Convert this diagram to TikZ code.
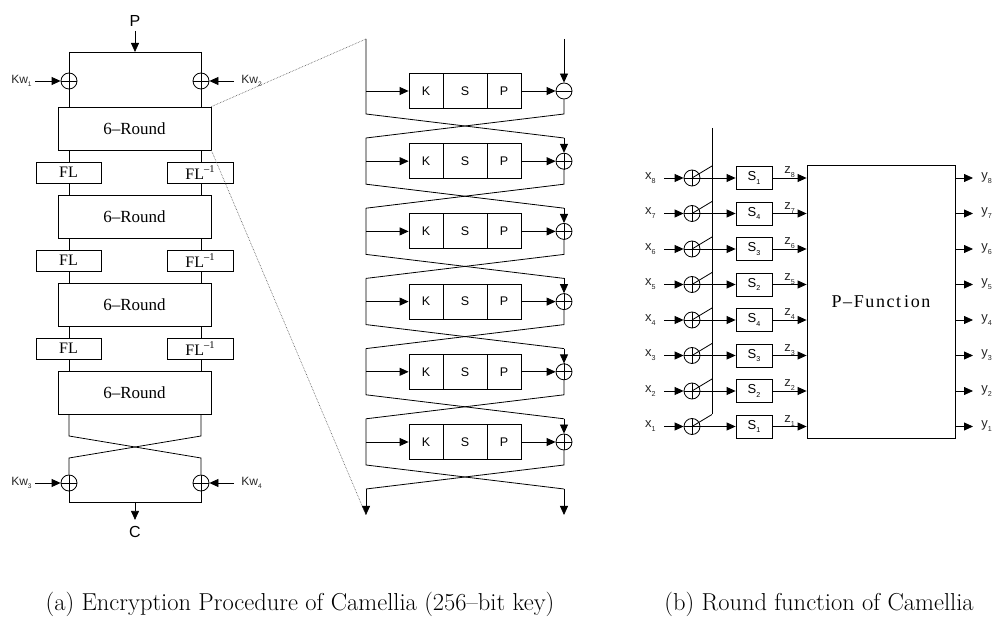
\documentclass[tikz,border=0pt]{standalone}
\usepackage{fontspec}
\usepackage{graphicx}
\newfontfamily\sansf{Liberation Sans}
\newfontfamily\serf{Liberation Serif}
\newfontfamily\serfw{Liberation Serif}[LetterSpace=9]
\usetikzlibrary{arrows.meta}
\newcommand\ssub[1]{\raisebox{-0.3em}{\scalebox{0.55}{#1}}}
\newcommand\ssup[1]{\raisebox{0.42em}{\scalebox{0.65}{#1}}}
\begin{document}
\begin{tikzpicture}[x=1pt,y=-1pt,line width=0.8pt,
  arr/.style={-{Triangle[length=9pt,width=8pt]}},
  xorn/.style={circle,draw,minimum size=16pt,inner sep=0pt},
  xorp/.style={xorn,path picture={\draw[line width=0.8pt] (path picture bounding box.north)--(path picture bounding box.south) (path picture bounding box.west)--(path picture bounding box.east);}},
  lab/.style={inner sep=1pt,text=black!85,font=\sansf\fontsize{12}{12}\selectfont},
  big/.style={inner sep=1pt,font=\sansf\fontsize{16}{16}\selectfont},
  rbox/.style={draw,minimum width=153pt,minimum height=43pt,inner sep=0pt,font=\serf\fontsize{17}{17}\selectfont},
  flbox/.style={draw,minimum width=65pt,minimum height=21pt,inner sep=0pt,font=\serf\fontsize{16}{16}\selectfont},
  ksp/.style={draw,minimum width=34pt,minimum height=35pt,inner sep=0pt,font=\sansf\fontsize{12.5}{12.5}\selectfont},
  sbox/.style={draw,minimum width=36pt,minimum height=23pt,inner sep=0pt,font=\sansf\fontsize{13}{13}\selectfont},
  captext/.style={inner sep=0pt,font=\fontsize{24.5}{28}\selectfont},
  dots/.style={densely dotted,line width=0.6pt,black!70}
]
\useasboundingbox (0,0) rectangle (997,617);

% ---------- (a) left: overall structure ----------
\node[big] (P) at (135,21) {P};
\coordinate (pj) at (135,52);
\draw[arr,shorten <=3pt] (P.south) -- (pj);
\coordinate (tl) at (69,52);
\coordinate (tr) at (201,52);
\draw (tl) -- (tr);
\node[xorp] (xa) at (69,81) {};
\node[xorp] (xb) at (201,81) {};
\draw (tl) -- (xa.north);
\draw (tr) -- (xb.north);
\node[lab,anchor=east] (kw1) at (33,81) {Kw\ssub{1}};
\node[lab,anchor=west] (kw2) at (240,81) {Kw\ssub{2}};
\draw[arr,shorten <=2pt] (kw1.east) -- (xa.west);
\draw[arr,shorten <=6pt] (kw2.west) -- (xb.east);

\node[rbox] (R1) at (134.5,128.5) {6\textendash Round};
\node[rbox] (R2) at (134.5,216.5) {6\textendash Round};
\node[rbox] (R3) at (134.5,304.5) {6\textendash Round};
\node[rbox] (R4) at (134.5,392.5) {6\textendash Round};
\foreach \k/\yy in {1/172.5,2/260.5,3/348.5}{
  \node[flbox] (FA\k) at (68.5,\yy) {FL};
  \node[flbox,minimum width=66pt] (FB\k) at (200,\yy) {FL\ssup{\textendash1}};
}
\draw (xa.south) -- (xa.south |- R1.north);
\draw (xb.south) -- (xb.south |- R1.north);
\foreach \k/\n in {1/2,2/3,3/4}{
  \draw (R\k.south -| xa) -- (xa |- FA\k.north);
  \draw (xa |- FA\k.south) -- (xa |- R\n.north);
  \draw (R\k.south -| xb) -- (xb |- FB\k.north);
  \draw (xb |- FB\k.south) -- (xb |- R\n.north);
}
\node[xorp] (xc) at (69,483) {};
\node[xorp] (xd) at (201,483) {};
\coordinate (c1) at (69,436);
\coordinate (c2) at (201,436);
\coordinate (c3) at (69,458);
\coordinate (c4) at (201,458);
\draw (R4.south -| c1) -- (c1) -- (c4) -- (xd.north);
\draw (R4.south -| c2) -- (c2) -- (c3) -- (xc.north);
\node[lab,anchor=east] (kw3) at (33,483) {Kw\ssub{3}};
\node[lab,anchor=west] (kw4) at (240,483) {Kw\ssub{4}};
\draw[arr,shorten <=2pt] (kw3.east) -- (xc.west);
\draw[arr,shorten <=6pt] (kw4.west) -- (xd.east);
\coordinate (bl) at (69,502);
\coordinate (br) at (201,502);
\coordinate (bm) at (135,502);
\draw (xc.south) -- (bl) -- (br) -- (xd.south);
\node[big] (C) at (135,532) {C};
\draw[arr,shorten >=5pt] (bm) -- (C.north);

% ---------- (a) middle: 6 rounds ----------
\coordinate (lt1) at (366,39);
\coordinate (rt1) at (564,39);
\foreach \i in {1,...,6}{
  \pgfmathsetmacro\yy{91+70.2*(\i-1)}
  \pgfmathtruncatemacro\j{\i+1}
  \node[ksp] (K\i) at (426,\yy) {K};
  \node[ksp,minimum width=44pt] (S\i) at (465,\yy) {S};
  \node[ksp] (P\i) at (504,\yy) {P};
  \node[xorn] (X\i) at (564,\yy) {};
  \draw (X\i.west) -- (X\i.east);
  \ifnum\i>1 \draw (X\i.north) -- (X\i.south);\fi
  \coordinate (lb\i) at (366,\yy+23);
  \coordinate (rb\i) at (564,\yy+23);
  \coordinate (lt\j) at (366,\yy+47);
  \coordinate (rt\j) at (564,\yy+47);
  \draw (lt\i) -- (lb\i) -- (rt\j);
  \draw[arr] (rt\i) -- (X\i.north);
  \draw (X\i.south) -- (rb\i) -- (lt\j);
  \draw[arr] (K\i.west -| lt\i) -- (K\i.west);
  \draw[arr] (P\i.east) -- (X\i.west);
}
\coordinate (lend) at (366,515);
\coordinate (rend) at (564,515);
\draw[arr] (lt7) -- (lend);
\draw[arr] (rt7) -- (rend);
\draw[dots] (R1.north east) -- (lt1);
\draw[dots] (R1.south east) -- (lend);

% ---------- (b) round function ----------
\node[draw,minimum width=148pt,minimum height=273pt,inner sep=0pt,
      font=\serfw\fontsize{18}{18}\selectfont] (PF) at (881,301.5) {P\textendash Funct\,ion};
\coordinate (ktop) at (712,128);
\coordinate (kbot) at (712,414);
\draw (ktop) -- (kbot);
\foreach \j/\s [count=\c from 0] in {8/1,7/4,6/3,5/2,4/4,3/3,2/2,1/1}{
  \pgfmathsetmacro\yy{178+35.5*\c}
  \node[lab,anchor=east,font=\sansf\fontsize{13}{13}\selectfont] (xl\j) at (657,\yy) {x\ssub{\j}};
  \node[xorp] (XR\j) at (692,\yy) {};
  \node[sbox] (SB\j) at (754,\yy) {S\ssub{\s}};
  \coordinate (kd\j) at (712,\yy-12);
  \draw (XR\j.center) -- (kd\j);
  \draw[arr,shorten <=7pt] (xl\j.east) -- (XR\j.west);
  \draw[arr] (XR\j.east) -- (SB\j.west);
  \draw[arr] (SB\j.east) -- (SB\j.east -| PF.west)
     node[midway,above=-1pt,lab,font=\sansf\fontsize{13}{13}\selectfont] {z\ssub{\j}};
  \node[lab,anchor=west,font=\sansf\fontsize{13}{13}\selectfont] (yl\j) at (980,\yy) {y\ssub{\j}};
  \draw[arr,shorten >=7pt] (PF.east |- yl\j.west) -- (yl\j.west);
}

% ---------- captions ----------
\node[captext] (capa) at (300,604) {(a) Encryption Procedure of Camellia (256--bit key)};
\node[captext] (capb) at (819,604) {(b) Round function of Camellia};
\end{tikzpicture}
\end{document}
